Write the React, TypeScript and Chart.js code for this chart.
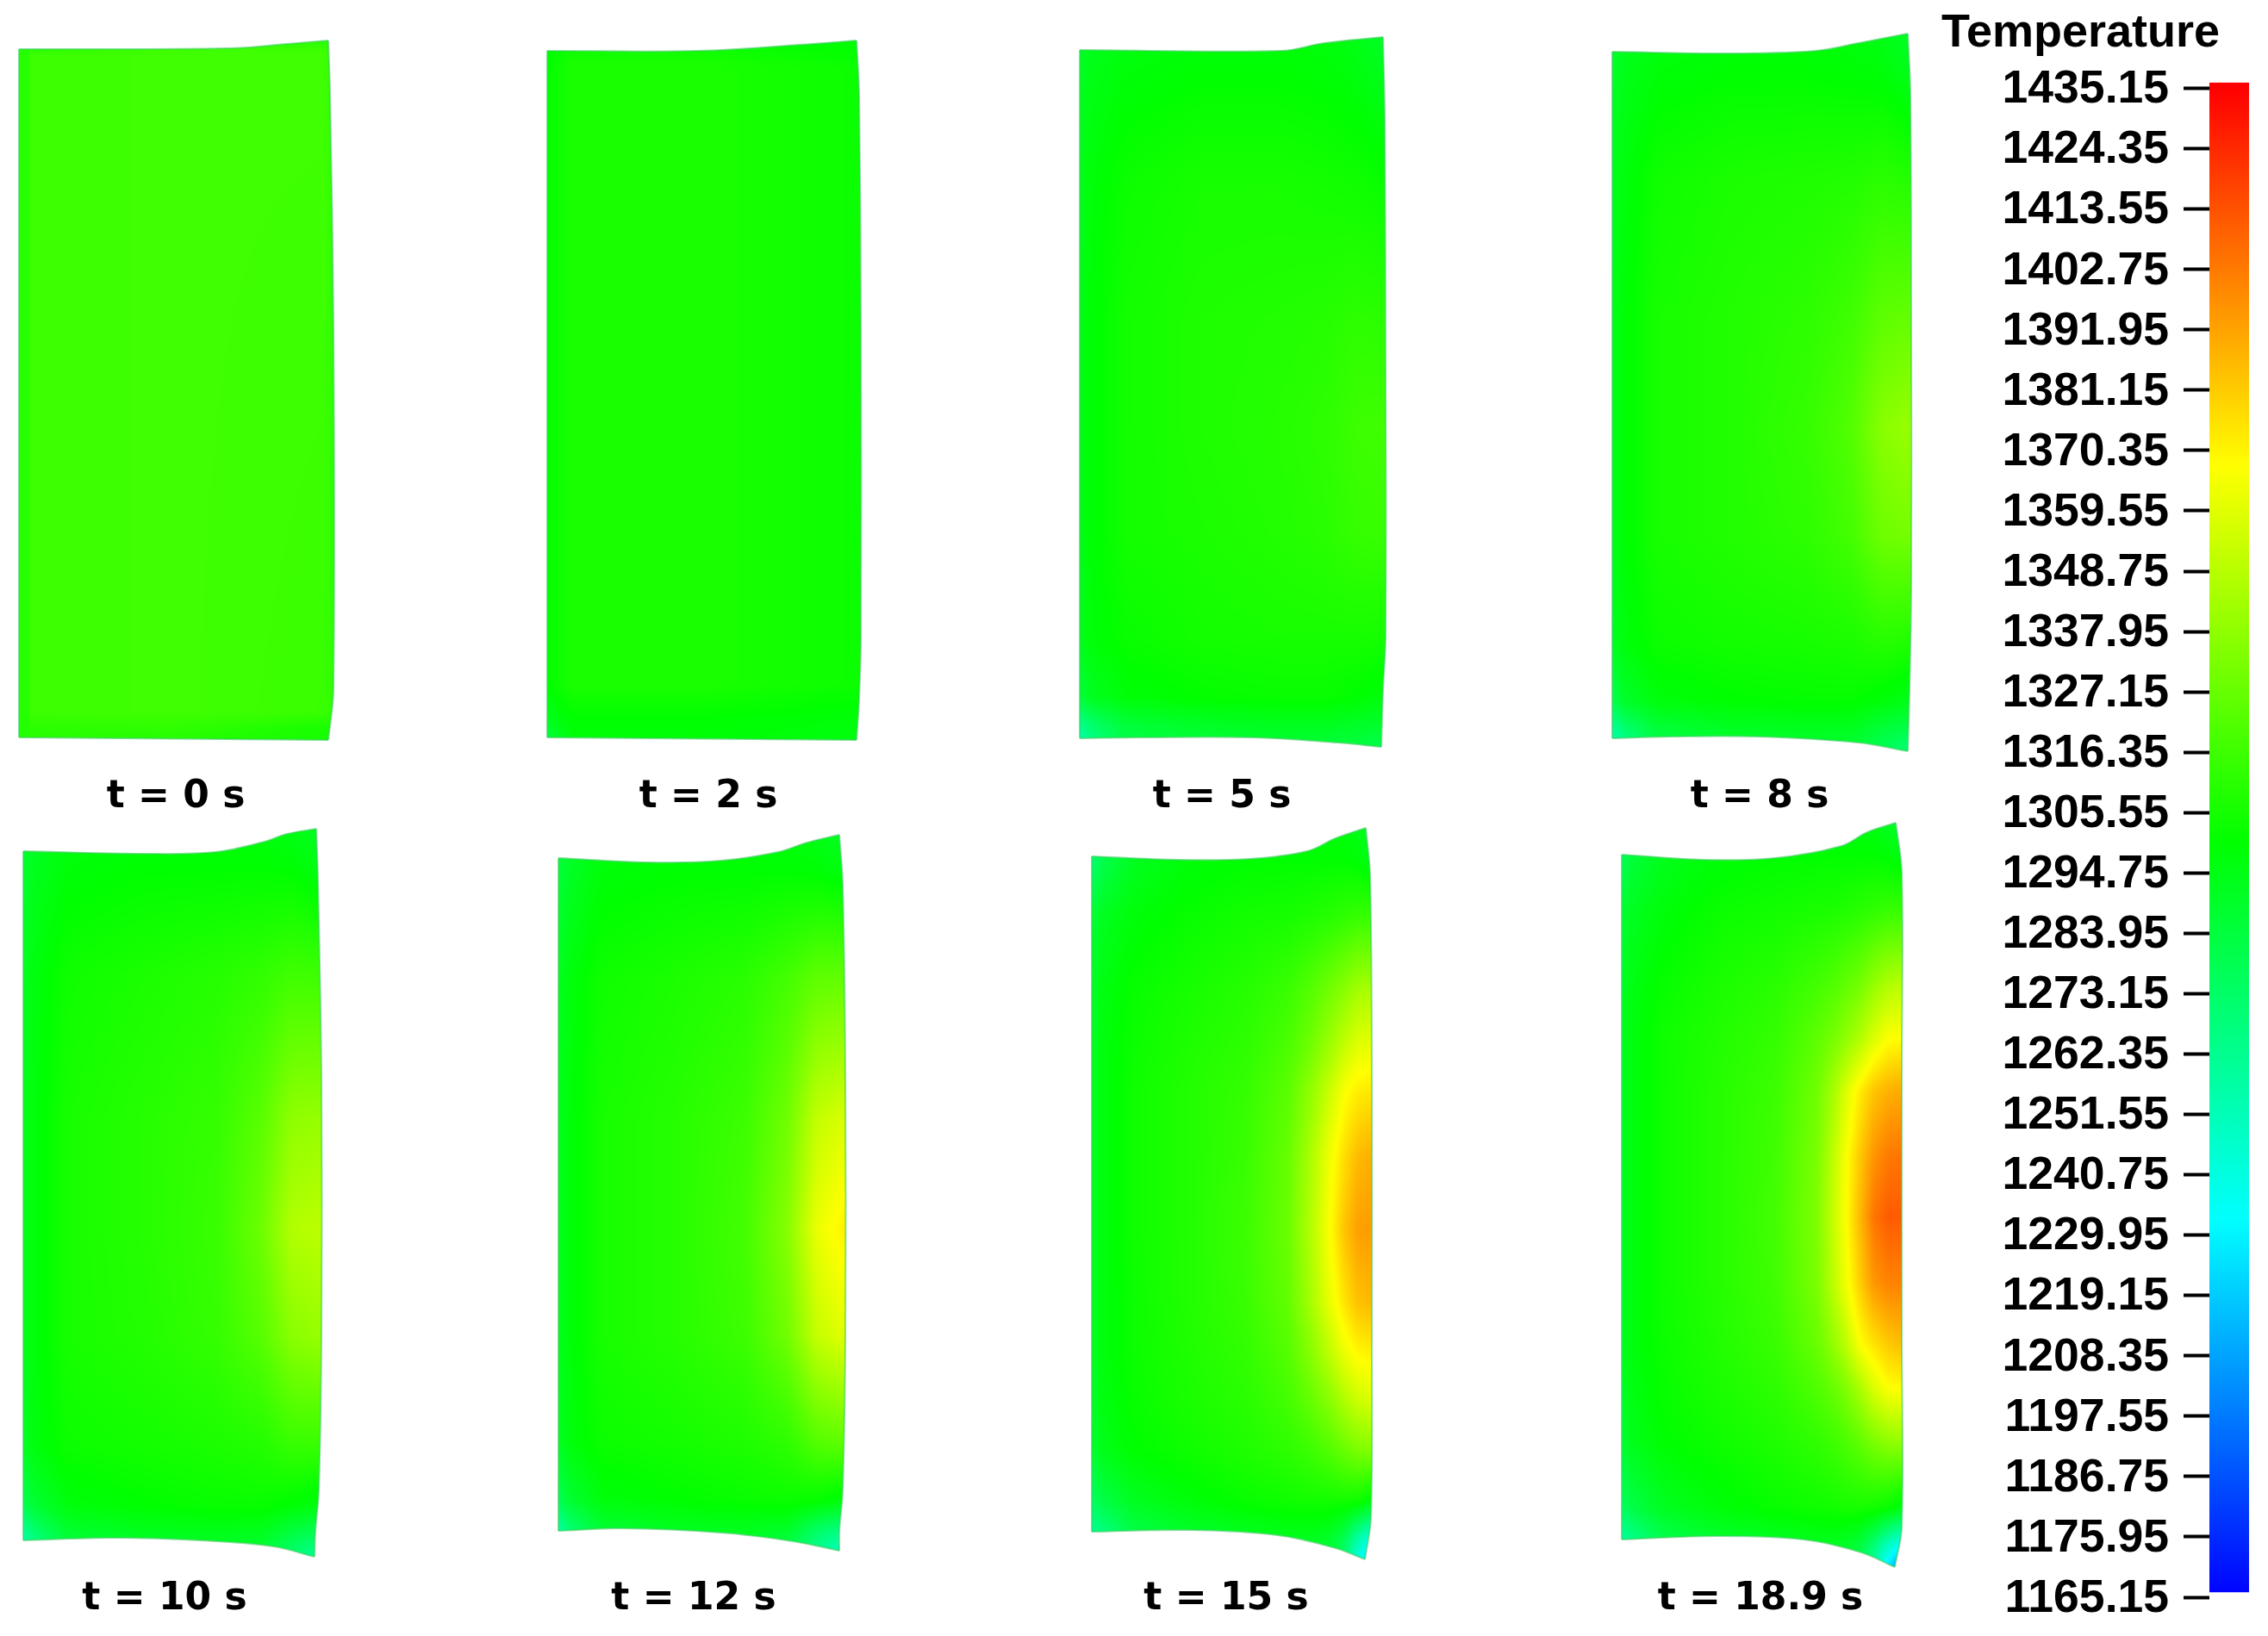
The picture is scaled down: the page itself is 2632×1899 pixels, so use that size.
import React, { useEffect, useRef } from "react";
import { Chart, registerables } from "chart.js";

Chart.register(...registerables);

// ---------- DATA ----------
const TIME_LABELS = ["t = 0 s", "t = 2 s", "t = 5 s", "t = 8 s", "t = 10 s", "t = 12 s", "t = 15 s", "t = 18.9 s"];

const LEGEND_TICKS = [
  1435.15, 1424.35, 1413.55, 1402.75, 1391.95, 1381.15, 1370.35, 1359.55, 1348.75, 1337.95, 1327.15, 1316.35, 1305.55,
  1294.75, 1283.95, 1273.15, 1262.35, 1251.55, 1240.75, 1229.95, 1219.15, 1208.35, 1197.55, 1186.75, 1175.95, 1165.15,
];
const LEGEND_TITLE = "Temperature";
const LEGEND_BAR = [1166.1, 1436.2];
const COLOR_STOPS = [1165.15, 1232.65, 1300.15, 1367.65, 1435.15];
const COLOR_RGB = [[0, 0, 255], [0, 255, 255], [0, 255, 0], [255, 255, 0], [255, 0, 0]];

// Deformed billet outlines (x, y in figure units)
const outline0 = [[22, 57], [267, 56], [333, 51], [381, 47], [383, 110], [387, 380], [387, 800], [381, 859], [22, 856]];
const outline1 = [[635, 59], [810, 59], [943, 51], [994, 47], [997, 110], [999, 380], [999, 739], [997, 811], [994, 859], [635, 856]];
const outline2 = [[1253, 58], [1487, 59], [1537, 50], [1605, 43], [1607, 140], [1608, 440], [1608, 739], [1605, 800], [1603, 867], [1553, 862], [1453, 856], [1320, 856], [1253, 857]];
const outline3 = [[1871, 60], [2007, 62], [2107, 59], [2157, 50], [2214, 39], [2217, 110], [2218, 380], [2218, 680], [2216, 800], [2214, 872], [2157, 862], [2040, 855], [1940, 855], [1871, 857]];
const outline4 = [[27, 988], [167, 991], [250, 989], [307, 977], [333, 968], [367, 962], [369, 1022], [373, 1250], [373, 1550], [370, 1729], [366, 1777], [365, 1807], [317, 1795], [233, 1788], [133, 1785], [27, 1788]];
const outline5 = [[648, 996], [753, 1001], [837, 999], [903, 989], [937, 978], [974, 969], [978, 1028], [981, 1250], [981, 1550], [978, 1729], [974, 1777], [974, 1800], [920, 1789], [837, 1779], [720, 1774], [648, 1777]];
const outline6 = [[1267, 994], [1367, 998], [1450, 997], [1517, 988], [1550, 973], [1585, 961], [1590, 1017], [1592, 1253], [1592, 1555], [1591, 1761], [1584, 1810], [1550, 1797], [1483, 1782], [1383, 1776], [1267, 1778]];
const outline7 = [[1882, 992], [1977, 998], [2060, 996], [2137, 982], [2167, 966], [2200, 955], [2207, 1013], [2207, 1246], [2207, 1552], [2207, 1772], [2199, 1819], [2160, 1802], [2093, 1787], [1993, 1783], [1882, 1787]];
// index of the top-right, bottom-right and bottom-left corners in each outline
const CORNERS = [[3, 7, 8], [3, 8, 9], [3, 8, 12], [4, 9, 13], [5, 11, 15], [5, 11, 15], [5, 10, 14], [5, 10, 14]];

// Temperature fields: columns (fraction across), rows (fraction down), values
const cols0 = [0, 0.03, 0.035, 0.5, 0.97, 1];
const rows0 = [0, 0.015, 0.02, 0.96, 0.985, 1];
const temps0 = [
  [1310, 1310, 1311, 1311, 1311, 1309],
  [1310, 1310, 1312, 1317, 1316, 1310],
  [1310, 1310, 1316, 1317, 1317, 1312],
  [1310, 1310, 1316, 1317, 1315, 1312],
  [1309, 1309, 1311, 1312, 1306, 1306],
  [1309, 1309, 1310, 1310, 1306, 1306],
];

const cols1 = [0, 0.03, 0.08, 0.5, 1];
const rows1 = [0, 0.04, 0.92, 0.97, 1];
const temps1 = [
  [1299, 1301, 1303, 1303, 1299],
  [1300, 1303, 1307, 1307, 1303],
  [1300, 1303, 1307, 1307, 1303],
  [1292, 1296, 1300, 1300, 1298],
  [1280, 1290, 1298, 1299, 1296],
];

const colsMid = [0, 0.04, 0.15, 0.4, 0.65, 0.8, 0.9, 1];
const rowsMid = [0, 0.05, 0.2, 0.4, 0.55, 0.7, 0.85, 0.93, 0.97, 1];
const temps2 = [
  [1290, 1293, 1296, 1298, 1298, 1297, 1295, 1290],
  [1292, 1295, 1298, 1300, 1300, 1299, 1297, 1293],
  [1294, 1298, 1303, 1306, 1306, 1305, 1304, 1302],
  [1295, 1299, 1305, 1308, 1309, 1310, 1312, 1311],
  [1295, 1299, 1305, 1308, 1310, 1312, 1316, 1317],
  [1295, 1299, 1305, 1307, 1309, 1311, 1314, 1315],
  [1293, 1298, 1302, 1305, 1306, 1306, 1306, 1305],
  [1285, 1292, 1298, 1301, 1302, 1302, 1300, 1297],
  [1262, 1272, 1285, 1290, 1292, 1292, 1290, 1288],
  [1250, 1262, 1280, 1285, 1287, 1285, 1283, 1280],
];
const temps3 = [
  [1288, 1292, 1296, 1298, 1298, 1297, 1295, 1290],
  [1290, 1294, 1298, 1300, 1300, 1299, 1298, 1293],
  [1293, 1297, 1304, 1307, 1308, 1309, 1311, 1309],
  [1294, 1299, 1306, 1309, 1312, 1317, 1325, 1327],
  [1294, 1299, 1306, 1309, 1314, 1322, 1336, 1341],
  [1294, 1299, 1306, 1309, 1312, 1318, 1329, 1331],
  [1292, 1297, 1303, 1305, 1306, 1307, 1310, 1308],
  [1280, 1289, 1297, 1300, 1301, 1301, 1298, 1294],
  [1258, 1270, 1285, 1291, 1292, 1292, 1285, 1280],
  [1245, 1260, 1280, 1286, 1288, 1285, 1278, 1268],
];
const temps4 = [
  [1285, 1290, 1296, 1298, 1298, 1297, 1295, 1292],
  [1288, 1293, 1298, 1300, 1300, 1300, 1299, 1295],
  [1292, 1297, 1304, 1307, 1310, 1313, 1317, 1316],
  [1293, 1298, 1306, 1310, 1314, 1324, 1338, 1340],
  [1293, 1298, 1306, 1310, 1315, 1329, 1347, 1350],
  [1293, 1298, 1306, 1309, 1314, 1323, 1336, 1340],
  [1291, 1297, 1303, 1305, 1307, 1309, 1314, 1314],
  [1278, 1287, 1297, 1300, 1302, 1302, 1299, 1296],
  [1258, 1270, 1287, 1292, 1293, 1292, 1282, 1275],
  [1245, 1260, 1282, 1287, 1288, 1283, 1270, 1258],
];
const temps5 = [
  [1283, 1288, 1296, 1298, 1298, 1297, 1295, 1292],
  [1285, 1291, 1298, 1300, 1300, 1300, 1299, 1296],
  [1292, 1297, 1304, 1307, 1311, 1318, 1325, 1326],
  [1293, 1298, 1306, 1310, 1316, 1330, 1352, 1358],
  [1293, 1298, 1306, 1310, 1318, 1336, 1362, 1372],
  [1293, 1298, 1306, 1310, 1316, 1330, 1352, 1360],
  [1291, 1297, 1303, 1305, 1308, 1312, 1322, 1325],
  [1278, 1287, 1297, 1300, 1302, 1303, 1301, 1297],
  [1258, 1270, 1287, 1292, 1293, 1290, 1275, 1265],
  [1248, 1262, 1282, 1288, 1288, 1280, 1262, 1248],
];

const cols6 = [0, 0.04, 0.15, 0.35, 0.55, 0.7, 0.78, 0.85, 0.9, 0.95, 1];
const rows6 = [0, 0.04, 0.12, 0.22, 0.3, 0.36, 0.45, 0.55, 0.65, 0.72, 0.78, 0.85, 0.92, 0.97, 1];
const temps6 = [
  [1270, 1280, 1292, 1297, 1298, 1298, 1298, 1298, 1297, 1295, 1290],
  [1270, 1280, 1292, 1298, 1300, 1300, 1300, 1300, 1300, 1298, 1294],
  [1287, 1292, 1298, 1302, 1305, 1306, 1308, 1310, 1312, 1314, 1314],
  [1291, 1296, 1302, 1306, 1310, 1315, 1322, 1330, 1336, 1343, 1345],
  [1292, 1297, 1303, 1308, 1312, 1320, 1330, 1342, 1352, 1360, 1362],
  [1292, 1297, 1304, 1309, 1314, 1324, 1338, 1354, 1366, 1372, 1374],
  [1292, 1297, 1304, 1309, 1315, 1327, 1345, 1364, 1376, 1386, 1389],
  [1292, 1297, 1304, 1309, 1316, 1328, 1347, 1367, 1383, 1393, 1394],
  [1292, 1297, 1303, 1309, 1315, 1326, 1343, 1362, 1374, 1384, 1386],
  [1292, 1297, 1303, 1308, 1313, 1322, 1335, 1350, 1362, 1369, 1371],
  [1291, 1296, 1302, 1307, 1311, 1318, 1327, 1337, 1347, 1355, 1358],
  [1288, 1294, 1300, 1304, 1308, 1312, 1316, 1322, 1328, 1333, 1335],
  [1275, 1282, 1292, 1298, 1302, 1304, 1305, 1305, 1305, 1304, 1298],
  [1258, 1265, 1280, 1288, 1291, 1293, 1293, 1290, 1280, 1258, 1240],
  [1255, 1260, 1275, 1283, 1287, 1289, 1288, 1284, 1270, 1240, 1215],
];

const cols7 = [0, 0.04, 0.15, 0.35, 0.55, 0.7, 0.76, 0.8, 0.85, 0.9, 0.95, 1];
const rows7 = [0, 0.04, 0.12, 0.22, 0.29, 0.36, 0.45, 0.53, 0.62, 0.7, 0.76, 0.83, 0.92, 0.97, 1];
const temps7 = [
  [1272, 1285, 1293, 1297, 1298, 1298, 1297, 1297, 1296, 1296, 1292, 1290],
  [1276, 1285, 1293, 1298, 1300, 1300, 1300, 1300, 1300, 1300, 1298, 1295],
  [1288, 1292, 1298, 1303, 1305, 1307, 1308, 1309, 1311, 1313, 1315, 1315],
  [1291, 1296, 1302, 1307, 1311, 1318, 1322, 1326, 1331, 1340, 1347, 1350],
  [1292, 1297, 1304, 1309, 1314, 1325, 1332, 1338, 1347, 1358, 1367, 1368],
  [1292, 1297, 1304, 1310, 1316, 1330, 1345, 1358, 1372, 1383, 1388, 1390],
  [1292, 1297, 1304, 1310, 1317, 1333, 1352, 1366, 1382, 1396, 1403, 1405],
  [1292, 1297, 1304, 1310, 1318, 1334, 1354, 1367, 1386, 1404, 1411, 1411],
  [1292, 1297, 1304, 1310, 1317, 1333, 1351, 1364, 1380, 1395, 1400, 1401],
  [1292, 1297, 1303, 1309, 1315, 1328, 1340, 1350, 1367, 1375, 1382, 1385],
  [1291, 1296, 1302, 1307, 1312, 1321, 1328, 1334, 1345, 1358, 1367, 1368],
  [1288, 1294, 1300, 1304, 1308, 1313, 1317, 1320, 1326, 1333, 1338, 1340],
  [1275, 1282, 1292, 1298, 1302, 1304, 1305, 1306, 1306, 1305, 1302, 1296],
  [1255, 1262, 1278, 1287, 1290, 1292, 1292, 1290, 1285, 1270, 1250, 1235],
  [1252, 1258, 1273, 1282, 1286, 1288, 1287, 1285, 1278, 1255, 1225, 1200],
];

const OUTLINES = [outline0, outline1, outline2, outline3, outline4, outline5, outline6, outline7];
const COLS = [cols0, cols1, colsMid, colsMid, colsMid, colsMid, cols6, cols7];
const ROWS = [rows0, rows1, rowsMid, rowsMid, rowsMid, rowsMid, rows6, rows7];
const TEMPS = [temps0, temps1, temps2, temps3, temps4, temps5, temps6, temps7];

// ---------- LAYOUT ----------
const PANEL_W = 400;
const AXIS_H = [66, 60];
const LABEL_CX = [204, 822, 1418, 2042, 191, 805, 1423, 2043];
const ROW_TOP = [0, 945];
const ROW_H = [956, 954];
const ROW_AREA = [890, 894];
const ROW_PAD = [4, 16];
const LEGEND_LEFT = 2253;
const LEGEND_BAR_LEFT = 2564;

function rgbOf(t: number): number[] {
  const n = COLOR_STOPS.length;
  if (t <= COLOR_STOPS[0]) return COLOR_RGB[0];
  if (t >= COLOR_STOPS[n - 1]) return COLOR_RGB[n - 1];
  let i = 0;
  while (t > COLOR_STOPS[i + 1]) i++;
  const f = (t - COLOR_STOPS[i]) / (COLOR_STOPS[i + 1] - COLOR_STOPS[i]);
  return COLOR_RGB[i].map((c, k) => c + (COLOR_RGB[i + 1][k] - c) * f);
}

function locate(axis: number[], p: number): [number, number] {
  if (p <= axis[0]) return [0, 0];
  const n = axis.length;
  if (p >= axis[n - 1]) return [n - 2, 1];
  let i = 0;
  while (p > axis[i + 1]) i++;
  return [i, (p - axis[i]) / (axis[i + 1] - axis[i])];
}

// Splits an outline at its corners: top, right, bottom and left edges
function edgesOf(idx: number) {
  const o = OUTLINES[idx];
  const [tr, br, bl] = CORNERS[idx];
  return [o.slice(0, tr + 1), o.slice(tr, br + 1), o.slice(br, bl + 1), [o[bl], o[0]]];
}

function makeHeatPlugin(idx: number) {
  return {
    id: "heat" + idx,
    beforeDatasetsDraw(chart: any) {
      const { ctx } = chart;
      const sx = chart.scales.x;
      const sy = chart.scales.y;
      const outline = OUTLINES[idx];
      const xs = outline.map((p) => p[0]);
      const ys = outline.map((p) => p[1]);
      const minX = Math.min(...xs), maxX = Math.max(...xs);
      const minY = Math.min(...ys), maxY = Math.max(...ys);
      const pad = 14;
      const left = Math.floor(sx.getPixelForValue(minX)) - pad;
      const right = Math.ceil(sx.getPixelForValue(maxX)) + pad;
      const top = Math.floor(sy.getPixelForValue(minY)) - pad;
      const bottom = Math.ceil(sy.getPixelForValue(maxY)) + pad;
      const w = right - left;
      const h = bottom - top;
      const off = document.createElement("canvas");
      off.width = w;
      off.height = h;
      const octx = off.getContext("2d")!;
      const img = octx.createImageData(w, h);
      const cols = COLS[idx], rows = ROWS[idx], temps = TEMPS[idx];
      for (let py = 0; py < h; py++) {
        const v = (sy.getValueForPixel(top + py + 0.5) - minY) / (maxY - minY);
        const [ri, rf] = locate(rows, v);
        for (let px = 0; px < w; px++) {
          const u = (sx.getValueForPixel(left + px + 0.5) - minX) / (maxX - minX);
          const [ci, cf] = locate(cols, u);
          const t =
            temps[ri][ci] * (1 - rf) * (1 - cf) +
            temps[ri][ci + 1] * (1 - rf) * cf +
            temps[ri + 1][ci] * rf * (1 - cf) +
            temps[ri + 1][ci + 1] * rf * cf;
          const c = rgbOf(t);
          const o = (py * w + px) * 4;
          img.data[o] = c[0];
          img.data[o + 1] = c[1];
          img.data[o + 2] = c[2];
          img.data[o + 3] = 255;
        }
      }
      octx.putImageData(img, 0, 0);
      // Clip to the outline, following the curves of the library's own line elements
      ctx.save();
      ctx.beginPath();
      chart.data.datasets.forEach((_: any, di: number) => {
        const meta = chart.getDatasetMeta(di);
        meta.dataset.updateControlPoints(chart.chartArea, "x");
        const pts = meta.data;
        pts.forEach((p: any, i: number) => {
          if (i === 0) {
            if (di === 0) ctx.moveTo(p.x, p.y);
            else ctx.lineTo(p.x, p.y);
          } else {
            const q = pts[i - 1];
            ctx.bezierCurveTo(q.cp2x ?? q.x, q.cp2y ?? q.y, p.cp1x ?? p.x, p.cp1y ?? p.y, p.x, p.y);
          }
        });
      });
      ctx.closePath();
      ctx.clip();
      ctx.filter = "blur(1.5px)";
      ctx.drawImage(off, left, top);
      ctx.restore();
    },
  };
}

function Panel({ idx }: { idx: number }) {
  const ref = useRef<HTMLCanvasElement>(null);
  const row = idx < 4 ? 0 : 1;
  const cx = LABEL_CX[idx];
  const rowTop = ROW_TOP[row];
  const rowH = ROW_H[row];
  useEffect(() => {
    const chart = new Chart(ref.current!, {
      type: "scatter",
      data: {
        datasets: edgesOf(idx).map((edge) => ({
          label: TIME_LABELS[idx],
          data: edge.map((p) => ({ x: p[0], y: p[1] })),
          showLine: true,
          fill: false,
          tension: 0.35,
          pointRadius: 0,
          borderWidth: 2,
          borderColor: "rgba(60,205,95,0.6)",
        })),
      },
      options: {
        responsive: false,
        animation: false,
        layout: { padding: 0 },
        plugins: { legend: { display: false }, tooltip: { enabled: false } },
        scales: {
          x: {
            type: "linear",
            min: cx - PANEL_W / 2,
            max: cx + PANEL_W / 2,
            grid: { display: false },
            border: { display: false },
            ticks: { display: false },
            afterFit: (s: any) => {
              s.height = AXIS_H[row];
            },
            title: {
              display: true,
              text: TIME_LABELS[idx],
              color: "#000",
              font: { family: "'DejaVu Sans'", weight: "bold", size: 44 },
              padding: { top: 0, bottom: ROW_PAD[row] },
            },
          },
          y: {
            type: "linear",
            display: false,
            reverse: true,
            min: rowTop,
            max: rowTop + ROW_AREA[row],
          },
        },
      } as any,
      plugins: [makeHeatPlugin(idx)],
    } as any);
    return () => chart.destroy();
  }, []);
  return (
    <canvas
      ref={ref}
      width={PANEL_W}
      height={rowH}
      style={{ position: "absolute", left: cx - PANEL_W / 2, top: rowTop, display: "block" }}
    />
  );
}

function Legend() {
  const ref = useRef<HTMLCanvasElement>(null);
  useEffect(() => {
    const chart = new Chart(ref.current!, {
      type: "bar",
      data: {
        labels: [LEGEND_TITLE],
        datasets: [
          {
            data: [LEGEND_BAR],
            barPercentage: 1,
            categoryPercentage: 1,
            borderWidth: 0,
            backgroundColor: (c: any) => {
              const y = c.chart.scales.y;
              const y0 = y ? y.getPixelForValue(COLOR_STOPS[0]) : NaN;
              const y1 = y ? y.getPixelForValue(COLOR_STOPS[COLOR_STOPS.length - 1]) : NaN;
              if (!c.chart.chartArea || !isFinite(y0) || !isFinite(y1)) return "#0f0";
              const g = c.chart.ctx.createLinearGradient(0, y0, 0, y1);
              COLOR_STOPS.forEach((s, i) => {
                const [r, gg, b] = COLOR_RGB[i];
                g.addColorStop(i / (COLOR_STOPS.length - 1), `rgb(${r},${gg},${b})`);
              });
              return g;
            },
          },
        ],
      },
      options: {
        responsive: false,
        animation: false,
        layout: { padding: { left: 0, right: 22, top: 0, bottom: 45 } },
        plugins: {
          legend: { display: false },
          tooltip: { enabled: false },
          title: {
            display: true,
            text: LEGEND_TITLE,
            align: "start",
            color: "#000",
            font: { family: "'Liberation Sans'", weight: "bold", size: 54 },
            padding: { top: 7, bottom: 24 },
          },
        },
        scales: {
          x: { display: false },
          y: {
            type: "linear",
            min: 1165.15,
            max: LEGEND_BAR[1],
            border: { display: false },
            grid: { drawOnChartArea: false, drawTicks: true, tickLength: 30, tickColor: "#000", tickWidth: 4 },
            afterFit: (s: any) => {
              s.width = LEGEND_BAR_LEFT - LEGEND_LEFT;
              s.paddingTop = 0;
              s.paddingBottom = 0;
            },
            afterBuildTicks: (s: any) => {
              s.ticks = LEGEND_TICKS.map((v) => ({ value: v }));
            },
            ticks: {
              autoSkip: false,
              padding: 17,
              labelOffset: 2,
              color: "#000",
              font: { family: "'Liberation Sans'", weight: "bold", size: 53.5 },
              callback: (v: any) => Number(v).toFixed(2),
            },
          },
        },
      } as any,
    } as any);
    return () => chart.destroy();
  }, []);
  return (
    <canvas
      ref={ref}
      width={2632 - LEGEND_LEFT}
      height={1899}
      style={{ position: "absolute", left: LEGEND_LEFT, top: 0, display: "block" }}
    />
  );
}

export default function App() {
  return (
    <div style={{ position: "fixed", left: 0, top: 0, width: 2632, height: 1899, background: "#fff", overflow: "hidden" }}>
      {TIME_LABELS.map((_, i) => (
        <Panel key={i} idx={i} />
      ))}
      <Legend />
    </div>
  );
}
